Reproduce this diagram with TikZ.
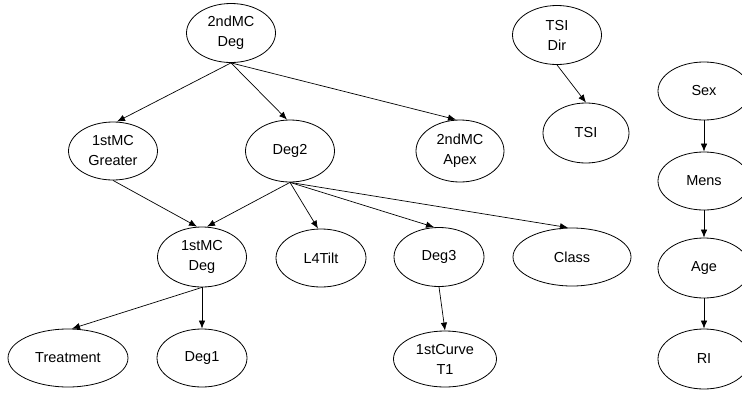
\documentclass[tikz,border=0pt]{standalone}
\usepackage{fontspec}
\setmainfont{Liberation Sans}
\usetikzlibrary{shapes.geometric,arrows.meta,calc}
\begin{document}
\begin{tikzpicture}[x=1pt,y=-1pt,
  var/.style={draw,ellipse,line width=0.8pt,inner sep=0pt,align=center,
    minimum width=89pt,minimum height=59pt,
    font=\fontsize{14.5}{20}\selectfont},
  edge/.style={line width=0.7pt,-{Latex[length=8pt,width=6.5pt]}}]
\useasboundingbox (0,0) rectangle (742,394);
% nodes
\node[var] (md2) at (231,33) {2ndMC\\Deg};
\node[var] (tsidir) at (557,35) {TSI\\Dir};
\node[var,minimum width=86pt,minimum height=60pt] (tsi) at (586,133) {TSI};
\node[var,minimum width=92pt,minimum height=58pt] (sex) at (704,91) {Sex};
\node[var,minimum width=92pt,minimum height=58pt] (mens) at (704,181) {Mens};
\node[var,minimum width=92pt,minimum height=60pt] (age) at (704,268) {Age};
\node[var,minimum width=92pt,minimum height=60pt] (ri) at (704,359) {RI};
\node[var,minimum height=58pt] (g1) at (113,151) {1stMC\\Greater};
\node[var,minimum height=62pt] (deg2) at (290,151) {Deg2};
\node[var,minimum width=88pt,minimum height=62pt] (apex) at (460,151) {2ndMC\\Apex};
\node[var,minimum height=60pt] (md1) at (202,257) {1stMC\\Deg};
\node[var,minimum width=90pt,minimum height=58pt] (l4) at (321,258) {L4Tilt};
\node[var,minimum width=90pt] (deg3) at (439,257) {Deg3};
\node[var,minimum width=118pt,minimum height=58pt] (class) at (572,257) {Class};
\node[var,minimum width=120pt,minimum height=58pt] (treat) at (68,358) {Treatment};
\node[var,minimum width=90pt,minimum height=58pt] (deg1) at (202,358) {Deg1};
\node[var,minimum width=103pt,minimum height=56pt] (curve) at (445,359) {1stCurve\\T1};
% connectors
\draw[edge] (md2.south) -- ($(g1.north)+(4,0)$);
\draw[edge] (md2.south) -- ($(deg2.north)+(-3,0)$);
\draw[edge] (md2.south) -- ($(apex.north)+(-4,0)$);
\draw[edge] (g1.south) -- ($(md1.north)+(-5,0)$);
\draw[edge] (deg2.south) -- ($(md1.north)+(5,0)$);
\draw[edge] (deg2.south) -- ($(l4.north)+(-3,0)$);
\draw[edge] (deg2.south) -- ($(deg3.north)+(-5,0)$);
\draw[edge] (deg2.south) -- ($(class.north)+(-4,0)$);
\draw[edge] (deg3.south) -- (curve.north);
\draw[edge] (md1.south) -- ($(treat.north)+(4,0)$);
\draw[edge] (md1.south) -- (deg1.north);
\draw[edge] (tsidir.south) -- (tsi.north);
\draw[edge] (sex) -- (mens);
\draw[edge] (mens) -- (age);
\draw[edge] (age) -- (ri);
\end{tikzpicture}
\end{document}
